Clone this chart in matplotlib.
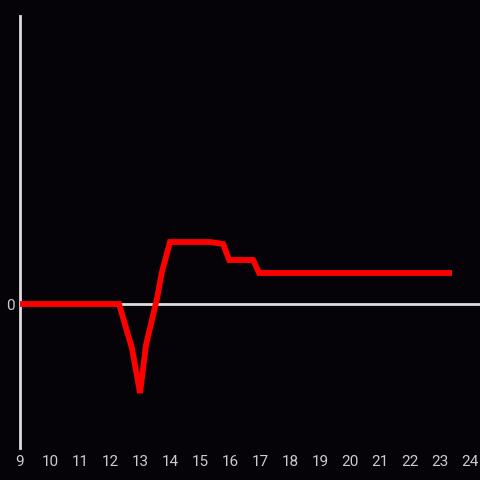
import matplotlib
matplotlib.use("Agg")
import matplotlib.pyplot as plt

# hours and values
hours = [9, 12.3, 12.73, 13.0, 13.2, 13.57, 13.73, 14.0, 15.33, 15.77, 15.97, 16.77, 16.97, 23.3]
values = [0, 0, -0.44, -0.89, -0.41, 0.06, 0.32, 0.62, 0.62, 0.60, 0.44, 0.44, 0.31, 0.31]
xticks = list(range(9, 25))

bg = "#050308"
axis_color = "#dddddd"

fig = plt.figure(figsize=(4.8, 4.8), dpi=100, facecolor=bg)
ax = fig.add_axes([20 / 480, 32 / 480, 460 / 480, 432 / 480])
ax.set_facecolor(bg)

ax.plot(hours, values, color="#ff0000", linewidth=4.2, solid_joinstyle="miter", zorder=3)

ax.set_xlim(9, 24.33)
ax.set_ylim(-1.44, 2.88)

for side in ["top", "right"]:
    ax.spines[side].set_visible(False)
ax.spines["left"].set_color(axis_color)
ax.spines["left"].set_linewidth(2)
ax.spines["bottom"].set_visible(False)
ax.axhline(0, color=axis_color, linewidth=2, zorder=2)

ax.set_xticks(xticks)
ax.set_xticklabels([str(t) for t in xticks])
ax.set_yticks([0])
ax.set_yticklabels(["0"])
ax.tick_params(axis="both", length=0, colors="#cccccc", labelsize=11)
ax.tick_params(axis="x", pad=5)
ax.tick_params(axis="y", pad=4)
for lbl in ax.get_xticklabels() + ax.get_yticklabels():
    lbl.set_fontfamily("Roboto")

fig.savefig("out.png", dpi=100, facecolor=bg)
